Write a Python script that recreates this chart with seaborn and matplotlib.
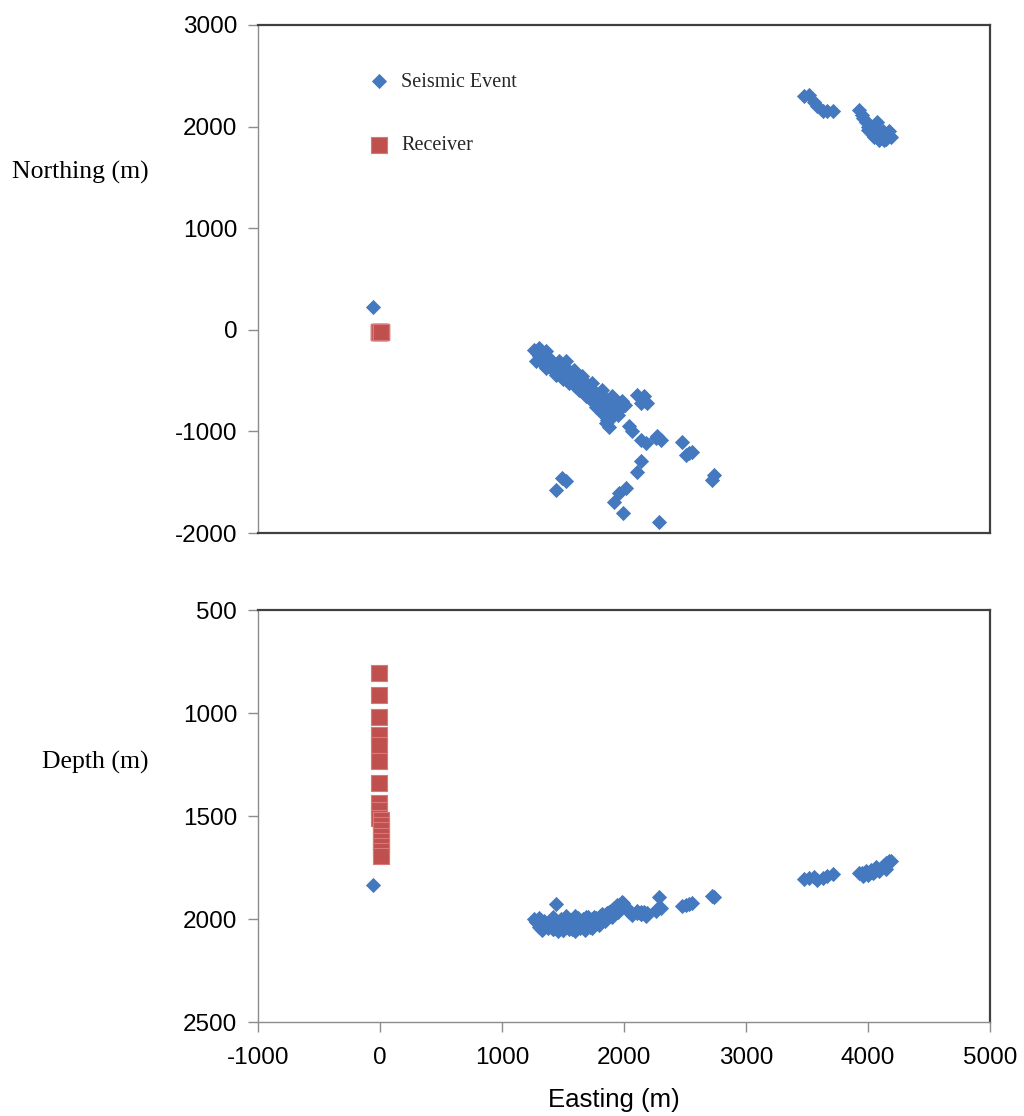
import pandas as pd
import matplotlib.pyplot as plt
import seaborn as sns

# seismic events: easting, northing, depth (m)
event_easting = [-57, 1262, 1287, 1303, 1276, 1328, 1358, 1358, 1385, 1443, 1440, 1467, 1492,
                 1522, 1549, 1549, 1590, 1607, 1631, 1656, 1658, 1686, 1713, 1740, 1768, 1770,
                 1820, 1822, 1822, 1850, 1861, 1877, 1877, 1904, 1918, 1959,
                 2109, 2137, 2164, 2191, 2041, 2068, 2137, 2178, 2260, 2273, 2301, 2478, 2506,
                 2533, 2560, 2137, 2109, 1494, 1522, 1440, 1959, 2014, 1918, 1987, 2287, 2738,
                 2724, 1420, 1500, 1580, 1660, 1700, 1980,
                 1300, 1340, 1400, 1420, 1480, 1500, 1560, 1570, 1620, 1640, 1690, 1720,
                 1750, 1790, 1800, 1850, 1840, 1890, 1900, 1940, 1950, 1980, 2010,
                 1330, 1420, 1460, 1530, 1600, 1680, 1740, 1600, 1520, 1380,
                 3475, 3516, 3557, 3626, 3708, 3926, 3953, 3981, 3995, 4022, 4036, 4063, 4076,
                 4090, 4104, 4131, 4145, 4172, 4186,
                 3960, 4000, 4050, 4120, 4150, 3580, 3660]
event_northing = [226, -197, -226, -180, -312, -295, -213, -377, -344, -374, -443, -312, -423,
                  -312, -462, -525, -394, -512, -591, -561, -459, -656, -610, -525, -755, -659,
                  -709, -591, -820, -919, -886, -758, -955, -656, -807, -722,
                  -640, -722, -656, -722, -951, -1000, -1083, -1115, -1066, -1050, -1083, -1109, -1230,
                  -1214, -1198, -1296, -1404, -1460, -1493, -1575, -1608, -1558, -1690, -1804, -1893, -1427,
                  -1476, -400, -450, -480, -560, -600, -760,
                  -260, -250, -300, -400, -380, -480, -420, -500, -450, -540, -520, -680,
                  -600, -700, -640, -680, -780, -720, -860, -760, -840, -700, -740,
                  -330, -360, -420, -440, -470, -580, -640, -550, -380, -280,
                  2300, 2313, 2247, 2149, 2149, 2165, 2116, 2050, 1969, 2001, 1919, 1969, 2050,
                  1870, 1936, 1870, 1919, 1952, 1900,
                  2080, 2000, 1900, 1960, 1880, 2200, 2150]
event_depth = [1835, 2000, 2008, 1995, 2015, 2020, 2025, 2035, 2030, 2038, 2045, 2030, 2040,
               2035, 2040, 2048, 2030, 2035, 2040, 2020, 2015, 2025, 2010, 2000, 2005, 1995,
               1985, 1975, 1990, 1980, 1970, 1965, 1975, 1955, 1950, 1935,
               1960, 1975, 1965, 1970, 1965, 1980, 1975, 1985, 1960, 1950, 1945, 1935, 1930,
               1925, 1920, 1965, 1970, 2025, 2030, 1925, 1930, 1940, 1945, 1920, 1895, 1895,
               1888, 2050, 2052, 2045, 2000, 1990, 1915,
               2040, 2012, 2018, 2050, 2000, 2052, 2005, 2050, 1995, 2045, 1990, 2040,
               1990, 2030, 1985, 1975, 2010, 1960, 1990, 1930, 1965, 1925, 1940,
               2055, 1990, 2058, 1995, 2058, 2052, 2045, 1985, 1985, 2045,
               1805, 1800, 1795, 1800, 1780, 1778, 1775, 1768, 1778, 1760, 1776, 1748, 1756,
               1765, 1752, 1740, 1730, 1720, 1717,
               1790, 1785, 1770, 1745, 1755, 1810, 1790]

# receivers in the vertical well
receiver_easting = [-8, -8, -8, -8, -8, -8, -8, -8, -8, -8,
                    4, 4, 4, 4, 4, 4, 4, 4]
receiver_northing = [-20] * 18
receiver_depth = [806, 913, 1019, 1107, 1155, 1233, 1340, 1437, 1471, 1510,
                  1520, 1545, 1570, 1595, 1620, 1645, 1670, 1695]

events = pd.DataFrame({'easting': event_easting, 'northing': event_northing, 'depth': event_depth})
receivers = pd.DataFrame({'easting': receiver_easting, 'northing': receiver_northing,
                          'depth': receiver_depth})

sns.set_theme(style="white")
plt.rcParams['font.family'] = ['Liberation Sans', 'DejaVu Sans']
plt.rcParams['axes.unicode_minus'] = False

blue = '#4579bf'
red = '#c0504d'
dark = '#404040'
gray = '#8c8c8c'

fig = plt.figure(figsize=(10.24, 11.16), dpi=100)
ax1 = fig.add_axes([0.252, 0.5224, 0.715, 0.4552])
ax2 = fig.add_axes([0.252, 0.0842, 0.715, 0.3692])

# plan view
sns.scatterplot(data=events, x='easting', y='northing', marker='D', s=60, color=blue,
                linewidth=0, ax=ax1, label='Seismic Event', zorder=3)
sns.scatterplot(data=receivers, x='easting', y='northing', marker='s', s=125, color=red,
                edgecolor='#d9787a', linewidth=0.8, ax=ax1, label='Receiver', zorder=3)

# depth section
sns.scatterplot(data=events, x='easting', y='depth', marker='D', s=60, color=blue,
                linewidth=0, ax=ax2, legend=False, zorder=3)
sns.scatterplot(data=receivers, x='easting', y='depth', marker='s', s=120, color=red,
                edgecolor='#d9787a', linewidth=0.8, ax=ax2, legend=False, zorder=3)

for ax in (ax1, ax2):
    ax.set_xlim(-1000, 5000)
    ax.set_xlabel('')
    ax.set_ylabel('')
    for side in ('top', 'right'):
        ax.spines[side].set_color(dark)
        ax.spines[side].set_linewidth(1.6)
    ax.spines['left'].set_color(gray)
    ax.spines['left'].set_linewidth(1.0)
    ax.tick_params(axis='y', which='both', left=True, length=7, width=1, color=gray,
                   labelsize=17.5, pad=8, labelcolor='black')

ax1.set_ylim(-2000, 3000)
ax1.set_yticks(range(-2000, 3001, 1000))
ax1.set_xticks([])
ax1.spines['bottom'].set_color(dark)
ax1.spines['bottom'].set_linewidth(1.6)

ax2.set_ylim(2500, 500)
ax2.set_yticks(range(500, 2501, 500))
ax2.set_xticks(range(-1000, 5001, 1000))
ax2.spines['bottom'].set_color(gray)
ax2.spines['bottom'].set_linewidth(1.0)
ax2.tick_params(axis='x', bottom=True, length=7, width=1, color=gray, labelsize=17.5, pad=11,
                labelcolor='black')

leg = ax1.legend(loc='upper left', bbox_to_anchor=(0.113, 0.942), frameon=False,
                 labelspacing=2.2, handletextpad=0.1,
                 prop={'family': ['Liberation Serif'], 'size': 14.5})

fig.text(0.012, 1 - 172 / 1116, 'Northing (m)', family=['Liberation Serif'], fontsize=18.5,
         va='center', ha='left', color='black')
fig.text(0.041, 1 - 762 / 1116, 'Depth (m)', family=['Liberation Serif'], fontsize=18.5,
         va='center', ha='left', color='black')
fig.text(0.599, 1 - 1100 / 1116, 'Easting (m)', fontsize=18.5, va='center', ha='center',
         color='black')

fig.savefig('out.png', dpi=100)
